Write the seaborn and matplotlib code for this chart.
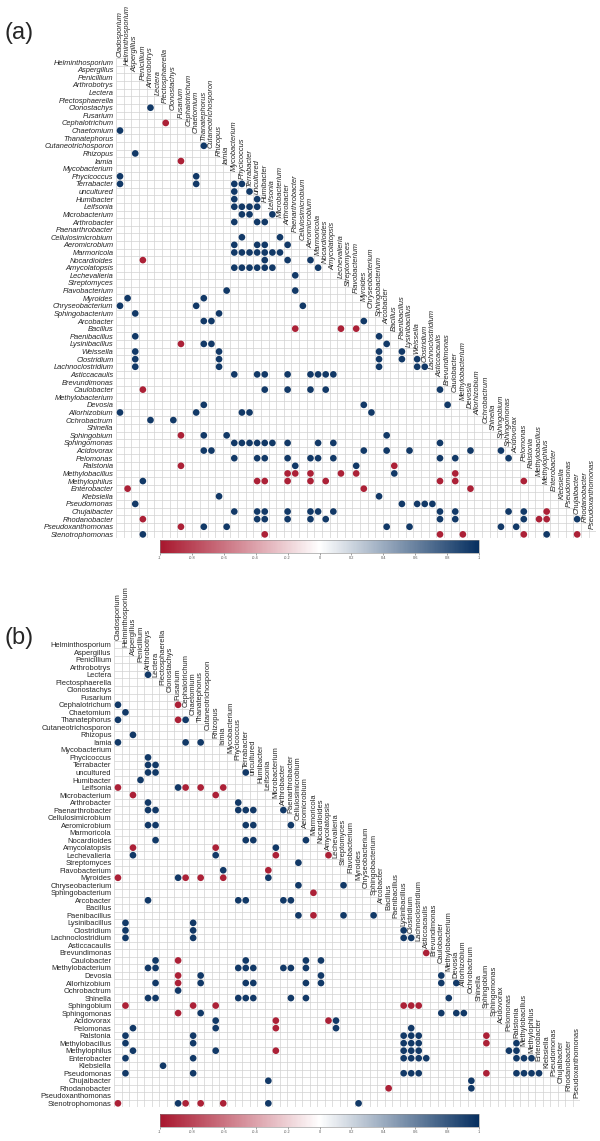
import numpy as np
import pandas as pd
import matplotlib
matplotlib.use('Agg')
import matplotlib.pyplot as plt
import seaborn as sns
from matplotlib.collections import LineCollection
from matplotlib.colors import LinearSegmentedColormap, ListedColormap, Normalize
from matplotlib.cm import ScalarMappable

sns.set_style('white')
plt.rcParams['font.family'] = ['Liberation Sans', 'DejaVu Sans']

# Taxa (order of the correlation matrix)
taxa_a = ['Cladosporium', 'Helminthosporium', 'Aspergillus', 'Penicillium', 'Arthrobotrys',
          'Lectera', 'Plectosphaerella', 'Clonostachys', 'Fusarium', 'Cephalotrichum',
          'Chaetomium', 'Thanatephorus', 'Cutaneotrichosporon', 'Rhizopus', 'Iamia',
          'Mycobacterium', 'Phycicoccus', 'Terrabacter', 'uncultured', 'Humibacter',
          'Leifsonia', 'Microbacterium', 'Arthrobacter', 'Paenarthrobacter', 'Cellulosimicrobium',
          'Aeromicrobium', 'Marmoricola', 'Nocardioides', 'Amycolatopsis', 'Lechevalieria',
          'Streptomyces', 'Flavobacterium', 'Myroides', 'Chryseobacterium', 'Sphingobacterium',
          'Arcobacter', 'Bacillus', 'Paenibacillus', 'Lysinibacillus', 'Weissella',
          'Clostridium', 'Lachnoclostridium', 'Asticcacaulis', 'Brevundimonas', 'Caulobacter',
          'Methylobacterium', 'Devosia', 'Allorhizobium', 'Ochrobactrum', 'Shinella',
          'Sphingobium', 'Sphingomonas', 'Acidovorax', 'Pelomonas', 'Ralstonia',
          'Methylobacillus', 'Methylophilus', 'Enterobacter', 'Klebsiella', 'Pseudomonas',
          'Chujaibacter', 'Rhodanobacter', 'Pseudoxanthomonas', 'Stenotrophomonas']

taxa_b = ['Cladosporium', 'Helminthosporium', 'Aspergillus', 'Penicillium', 'Arthrobotrys',
          'Lectera', 'Plectosphaerella', 'Clonostachys', 'Fusarium', 'Cephalotrichum',
          'Chaetomium', 'Thanatephorus', 'Cutaneotrichosporon', 'Rhizopus', 'Iamia',
          'Mycobacterium', 'Phycicoccus', 'Terrabacter', 'uncultured', 'Humibacter',
          'Leifsonia', 'Microbacterium', 'Arthrobacter', 'Paenarthrobacter', 'Cellulosimicrobium',
          'Aeromicrobium', 'Marmoricola', 'Nocardioides', 'Amycolatopsis', 'Lechevalieria',
          'Streptomyces', 'Flavobacterium', 'Myroides', 'Chryseobacterium', 'Sphingobacterium',
          'Arcobacter', 'Bacillus', 'Paenibacillus', 'Lysinibacillus',
          'Clostridium', 'Lachnoclostridium', 'Asticcacaulis', 'Brevundimonas', 'Caulobacter',
          'Methylobacterium', 'Devosia', 'Allorhizobium', 'Ochrobactrum', 'Shinella',
          'Sphingobium', 'Sphingomonas', 'Acidovorax', 'Pelomonas', 'Ralstonia',
          'Methylobacillus', 'Methylophilus', 'Enterobacter', 'Klebsiella', 'Pseudomonas',
          'Chujaibacter', 'Rhodanobacter', 'Pseudoxanthomonas', 'Stenotrophomonas']

# Significant correlations: {row taxon index: [column taxon indices]}
pos_a = {7: [4], 10: [0], 12: [11], 13: [2], 16: [0, 10], 17: [0, 10, 15, 16],
         18: [15, 17], 19: [15, 18], 20: [15, 16, 17, 18], 21: [16, 17, 20],
         22: [15, 18, 19], 24: [16, 21], 25: [15, 18, 19, 22],
         26: [15, 16, 17, 18, 19, 20, 21], 27: [19, 22, 25],
         28: [15, 16, 17, 18, 19, 20, 26], 29: [23], 31: [14, 23], 32: [1, 11],
         33: [0, 10, 24], 34: [2, 13], 35: [11, 12, 32], 37: [2, 34], 38: [11, 12, 35],
         39: [2, 13, 34, 37], 40: [2, 13, 34, 37, 39], 41: [2, 13, 34, 39, 40],
         42: [15, 18, 19, 22, 25, 26, 27, 28], 44: [19, 22, 25, 27, 42],
         46: [11, 32, 43], 47: [0, 10, 16, 17, 33], 48: [4, 7], 50: [11, 14, 35],
         51: [15, 16, 17, 18, 19, 20, 22, 26, 28, 42],
         52: [11, 12, 32, 35, 38, 46, 50],
         53: [15, 18, 19, 22, 25, 26, 28, 42, 44, 51], 54: [23, 31], 55: [36], 56: [3],
         58: [13, 34], 59: [2, 37, 39, 40, 41],
         60: [15, 18, 19, 22, 25, 26, 28, 42, 44, 51, 53],
         61: [18, 19, 22, 25, 27, 42, 44, 53, 60], 62: [11, 14, 35, 38, 50, 52],
         63: [3, 56]}
neg_a = {9: [6], 14: [8], 27: [3], 36: [23, 29, 31], 38: [8], 44: [3], 50: [8],
         54: [8, 36], 55: [22, 23, 25, 29, 31, 44], 56: [18, 19, 22, 25, 27, 42, 44, 53],
         57: [1, 32, 46], 60: [56], 61: [3, 55, 56], 62: [8], 63: [19, 42, 45, 53, 60]}

pos_b = {5: [4], 9: [0], 10: [1], 11: [0, 9], 13: [2], 14: [0, 9, 11], 16: [4],
         17: [4, 5], 18: [4, 5, 17], 19: [3], 20: [8], 22: [4, 16],
         23: [4, 5, 16, 17, 18, 22], 25: [4, 5, 17, 18, 23], 27: [5, 17, 18, 25],
         28: [21], 29: [2, 13], 30: [24], 31: [14], 32: [8, 20], 33: [24, 30],
         35: [4, 16, 17, 22, 23], 37: [24, 30, 34], 38: [1, 10], 39: [1, 10, 38],
         40: [1, 10, 38, 39], 43: [5, 17, 25, 27], 44: [4, 5, 16, 17, 18, 22, 23, 25],
         45: [11, 27, 43], 46: [5, 11, 17, 18, 25, 27, 43, 45], 47: [8],
         48: [4, 5, 16, 17, 18, 23, 25, 44], 50: [11, 43, 45, 46], 51: [13, 29],
         52: [2, 13, 29, 39], 53: [1, 10, 38, 39, 40], 54: [1, 10, 38, 39, 40, 53],
         55: [2, 13, 38, 39, 40, 52, 53], 56: [1, 10, 38, 39, 40, 41, 53, 54, 55],
         57: [6], 58: [1, 10, 38, 39, 40, 53, 54, 55, 56], 59: [20, 47], 60: [47],
         62: [8, 20, 32]}
neg_b = {9: [8], 11: [8], 20: [0, 9, 11, 14], 21: [2, 13], 28: [2, 13], 29: [21, 28],
         31: [20], 32: [0, 9, 11, 14], 34: [26], 37: [26], 42: [41], 43: [8], 45: [8],
         46: [8], 49: [1, 10, 13, 38, 39, 40], 50: [8], 51: [21, 28], 52: [21],
         53: [49], 54: [49], 55: [21], 58: [49], 60: [36], 62: [0, 9, 11, 14]}

# correlation strength
r_pos = 0.95
r_neg = -0.95

cbar_ticks = [-1, -0.8, -0.6, -0.4, -0.2, 0, 0.2, 0.4, 0.6, 0.8, 1]
cbar_labels = ['-1', '-0.8', '-0.6', '-0.4', '-0.2', '0', '0.2', '0.4', '0.6', '0.8', '1']

cmap = LinearSegmentedColormap.from_list('rdbu', ['#A8162D', '#FFFFFF', '#062F60'])

fig = plt.figure(figsize=(6, 11.41), dpi=100)


def draw_panel(grid_rect, cbar_rect, taxa, pos, neg, italic, tag, tag_y):
    n = len(taxa) - 1
    style = 'italic' if italic else 'normal'
    ax = fig.add_axes(grid_rect)

    # lower-triangle cells
    cells = np.zeros((n, n))
    mask = np.triu(np.ones((n, n), dtype=bool), k=1)
    sns.heatmap(cells, mask=mask, cmap=ListedColormap(['white']), cbar=False,
                linewidths=0, xticklabels=False, yticklabels=False, ax=ax)

    # staircase grid lines (only around the lower-triangle cells)
    segs = []
    for k in range(n + 1):
        segs.append([(0, k), (min(k + 1, n), k)])
        segs.append([(k, max(k - 1, 0)), (k, n)])
    ax.add_collection(LineCollection(segs, colors='#d2d2d2', linewidths=0.5, zorder=2))

    # dots
    recs = []
    for value, table in ((r_pos, pos), (r_neg, neg)):
        for r, cols in table.items():
            for c in cols:
                recs.append({'x': c + 0.5, 'y': r - 0.5, 'r': value})
    df = pd.DataFrame(recs)
    sns.scatterplot(data=df, x='x', y='y', hue='r', palette=cmap, hue_norm=(-1, 1),
                    s=23, linewidth=0, legend=False, ax=ax, zorder=3)
    ax.set_xlim(0, n)
    ax.set_ylim(n, 0)
    ax.set_xlabel('')
    ax.set_ylabel('')

    # row labels
    ax.set_yticks(np.arange(n) + 0.5)
    ax.set_yticklabels(taxa[1:], rotation=0, fontsize=5.4, style=style)
    ax.tick_params(axis='y', length=0, pad=2)
    ax.set_xticks([])

    # column labels on the diagonal
    for c, name in enumerate(taxa[:-1]):
        ax.text(c + 0.5, c - 0.15, name, rotation=90, ha='center', va='bottom',
                fontsize=5.4, style=style, clip_on=False)

    # colour bar
    cax = fig.add_axes(cbar_rect)
    cb = fig.colorbar(ScalarMappable(norm=Normalize(-1, 1), cmap=cmap), cax=cax,
                      orientation='horizontal', ticks=cbar_ticks)
    cb.ax.set_xticklabels(cbar_labels)
    cb.ax.tick_params(labelsize=2.8, length=1.5, width=0.4, pad=1, colors='#555555')
    cb.outline.set_edgecolor('#888888')
    cb.outline.set_linewidth(0.4)

    fig.text(0.007, tag_y, tag, fontsize=17, va='center', ha='left')


draw_panel([116.2 / 600, 1 - 538.2 / 1141, 480 / 600, 480 / 1141],
           [160 / 600, 1 - 552.7 / 1141, 319 / 600, 12.7 / 1141],
           taxa_a, pos_a, neg_a, True, '(a)', 1 - 33 / 1141)

draw_panel([114.2 / 600, 1 - 1107.1 / 1141, 466.2 / 600, 466.2 / 1141],
           [160 / 600, 1 - 1126.7 / 1141, 319 / 600, 12.7 / 1141],
           taxa_b, pos_b, neg_b, False, '(b)', 1 - 638 / 1141)

fig.savefig('out.png', dpi=100)
